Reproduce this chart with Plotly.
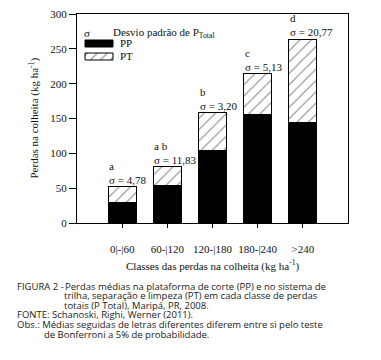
import plotly.graph_objects as go

# ---- data ----
categories = ["0|-|60", "60-|120", "120-|180", "180-|240", ">240"]
pp_values = [30, 54, 104, 156, 144]
pt_values = [22, 27, 54, 58, 120]
letters = ["a", "a b", "b", "c", "d"]
sigmas = ["4,78", "11,83", "3,20", "5,13", "20,77"]

totals = [a + b for a, b in zip(pp_values, pt_values)]

SERIF = "Liberation Serif"
SANS = "Open Sans"
W, H = 381, 360
L, R, T, B = 77, 348, 14, 223  # plot area in px


def px(xp):
    return (xp - L) / (R - L)


def py(yp):
    return (B - yp) / (B - T)


fig = go.Figure()

fig.add_trace(go.Bar(
    x=categories, y=pp_values, name="PP", width=0.62,
    marker=dict(color="black", line=dict(color="black", width=1)),
    showlegend=False,
))
fig.add_trace(go.Bar(
    x=categories, y=pt_values, name="PT", width=0.62,
    marker=dict(color="white", line=dict(color="black", width=1),
                pattern=dict(shape="/", fgcolor="black", bgcolor="white",
                             size=8, solidity=0.12)),
    showlegend=False,
))

# legend swatches drawn on an overlay pixel axis
fig.add_trace(go.Scatter(
    x=[8, 36, 36, 8, 8], y=[26, 26, 33, 33, 26], xaxis="x2", yaxis="y2",
    mode="lines", fill="toself", fillcolor="black",
    line=dict(color="black", width=1), showlegend=False, hoverinfo="skip",
))
fig.add_trace(go.Scatter(
    x=[8, 36, 36, 8, 8], y=[39, 39, 46, 46, 39], xaxis="x2", yaxis="y2",
    mode="lines", fill="toself", fillcolor="white",
    fillpattern=dict(shape="/", fgcolor="black", bgcolor="white", size=7, solidity=0.15),
    line=dict(color="black", width=1), showlegend=False, hoverinfo="skip",
))

TXT = dict(family=SERIF, size=11, color="#111")

annotations = []
for c, tot, let, sg in zip(categories, totals, letters, sigmas):
    annotations.append(dict(
        x=c, y=tot, xref="x", yref="y", xanchor="left", yanchor="bottom",
        xshift=-15, yshift=-1, align="left", showarrow=False,
        text=f"{let}<br>σ = {sg}", font=TXT,
    ))

# legend texts
annotations += [
    dict(x=10, y=19, xref="x2", yref="y2", text="σ", showarrow=False,
         xanchor="center", yanchor="middle", font=TXT),
    dict(x=34, y=19, xref="x2", yref="y2", text="Desvio padrão de P<sub>Total</sub>",
         showarrow=False, xanchor="left", yanchor="middle", font=TXT),
    dict(x=41, y=29, xref="x2", yref="y2", text="PP", showarrow=False,
         xanchor="left", yanchor="middle", font=TXT),
    dict(x=41, y=42, xref="x2", yref="y2", text="PT", showarrow=False,
         xanchor="left", yanchor="middle", font=TXT),
]

# axis titles
annotations += [
    dict(x=0.5, y=py(265), xref="paper", yref="paper",
         text="Classes das perdas na colheita (kg ha<sup>-1</sup>)", showarrow=False,
         xanchor="center", yanchor="middle", font=TXT),
    dict(x=px(34), y=0.5, xref="paper", yref="paper", textangle=-90,
         text="Perdas na colheita (kg ha<sup>-1</sup>)", showarrow=False,
         xanchor="center", yanchor="middle", font=TXT),
]

# caption
cap_font = dict(family=SANS, size=9.5, color="#1a1a1a")
caption = [
    (15, 286, "FIGURA 2 -"),
    (63, 286, "Perdas médias na plataforma de corte (PP) e no sistema de"),
    (62, 295.6, "trilha, separação e limpeza (PT) em cada classe de perdas"),
    (62, 305.2, "totais (P Total), Maripá, PR, 2008."),
    (15, 314.8, "FONTE: Schanoski, Righi, Werner (2011)."),
    (15, 324.4, "Obs.: Médias seguidas de letras diferentes diferem entre si pelo teste"),
    (42, 334, "de Bonferroni a 5% de probabilidade."),
]
for xx, yy, tx in caption:
    annotations.append(dict(x=px(xx), y=py(yy), xref="paper", yref="paper", text=tx,
                            showarrow=False, xanchor="left", yanchor="middle", font=cap_font))

fig.update_layout(
    width=W, height=H,
    margin=dict(l=L, r=W - R, t=T, b=H - B, pad=0),
    paper_bgcolor="white", plot_bgcolor="white",
    barmode="stack", bargap=0.38,
    font=TXT,
    annotations=annotations,
    xaxis=dict(
        type="category", range=[-1, 5], showline=True, linecolor="black", linewidth=1,
        mirror=True, ticks="outside", ticklen=4, tickcolor="black", showgrid=False,
        zeroline=False, ticklabelstandoff=12, automargin=False,
        tickfont=TXT,
    ),
    yaxis=dict(
        range=[0, 300], dtick=50, showline=True, linecolor="black", linewidth=1,
        mirror=True, ticks="outside", ticklen=7, tickcolor="black", showgrid=False,
        zeroline=False, tickfont=TXT, automargin=False,
    ),
    xaxis2=dict(overlaying="x", anchor="y2", range=[0, R - L], visible=False, fixedrange=True),
    yaxis2=dict(overlaying="y", anchor="x2", range=[B - T, 0], visible=False, fixedrange=True),
)

fig.write_html("out.html", config={"displayModeBar": False},
               post_script="document.body.style.margin='0';document.body.style.padding='0';")
